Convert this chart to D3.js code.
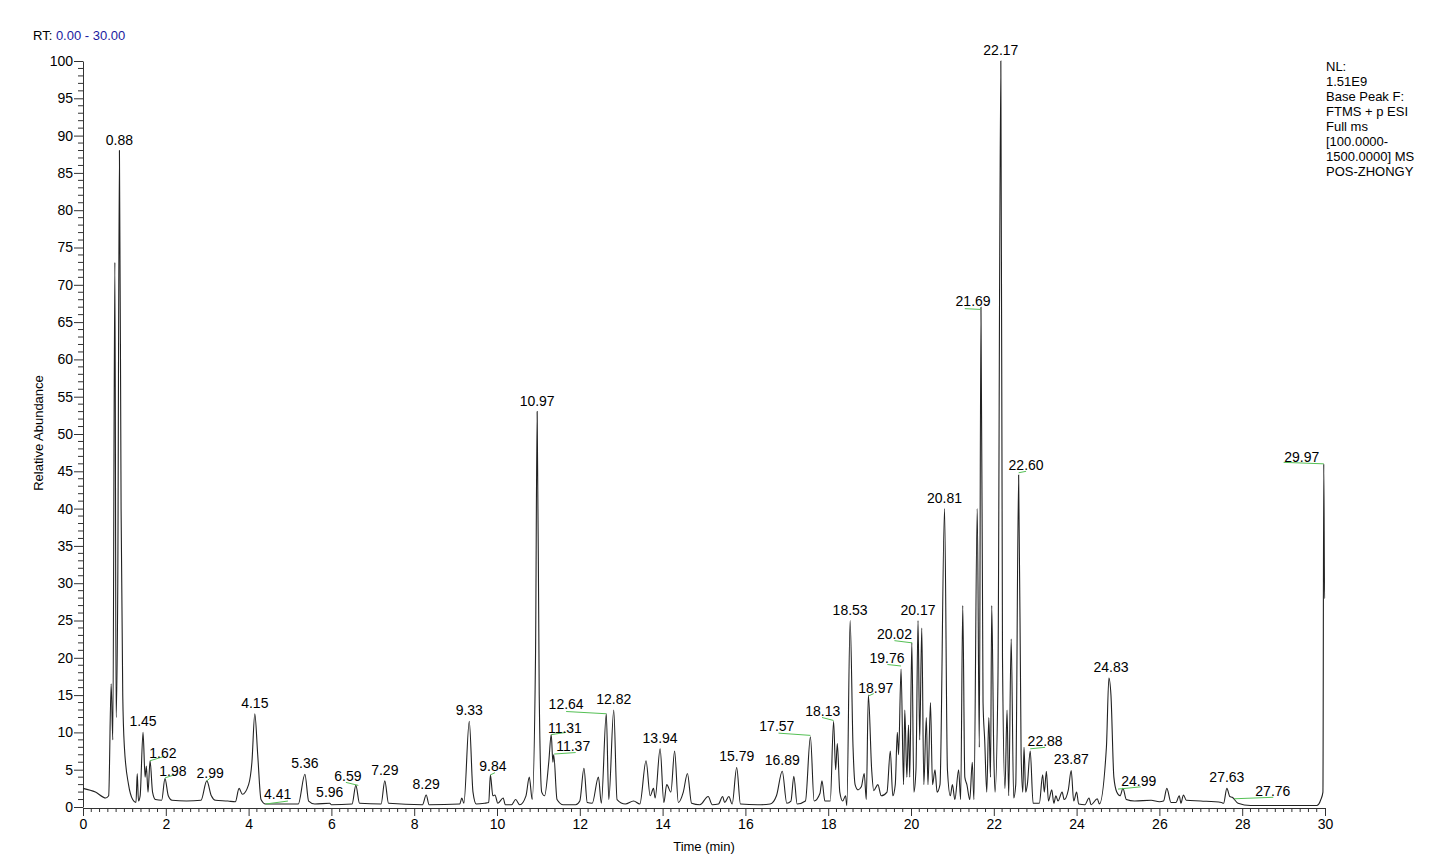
<!DOCTYPE html>
<html>
<head>
<meta charset="utf-8">
<script src="https://cdn.jsdelivr.net/npm/d3@7/dist/d3.min.js"></script>
<style>
 body { margin: 0; background: #fff; }
 text { font-family: "Liberation Sans", Arial, sans-serif; }
</style>
</head>
<body>
<div id="content"></div>
<script>
// chromatogram trace, [time (min), relative abundance]
var trace = [
 [0,2.5],[0.3,2.0],[0.55,1.2],[0.62,1.5],[0.68,16.5],[0.72,9],[0.77,73],[0.8,12],[0.84,30],[0.88,88],
 [0.92,40],[0.96,15],[1.0,8],[1.1,3],[1.2,1],[1.28,0.6],[1.31,4.5],[1.34,0.8],[1.38,1.5],[1.45,10],
 [1.5,4],[1.53,5.5],[1.57,2],[1.62,6.2],[1.68,2],[1.75,1.0],[1.9,0.9],[1.98,3.8],[2.06,1.5],[2.15,0.9],
 [2.5,0.8],[2.85,0.9],[2.99,3.5],[3.1,1.5],[3.2,0.9],[3.5,0.8],[3.68,0.7],[3.77,2.5],[3.85,1.7],[4.0,3],
 [4.08,6],[4.15,12.5],[4.22,7],[4.3,1.0],[4.41,0.4],[5.2,0.4],[5.36,4.4],[5.45,0.8],[5.6,0.4],[5.96,0.5],
 [6.0,0.3],[6.5,0.4],[6.59,2.9],[6.68,0.5],[7.2,0.4],[7.29,3.5],[7.38,0.5],[8.2,0.3],[8.29,1.6],[8.36,0.3],
 [9.1,0.4],[9.15,1.2],[9.2,0.5],[9.33,11.5],[9.42,2],[9.5,0.4],[9.7,0.5],[9.8,0.6],[9.84,4.3],[9.9,1.5],
 [9.95,1.6],[10.02,0.5],[10.15,1.2],[10.2,0.3],[10.35,0.3],[10.45,1.0],[10.55,0.3],[10.7,1.5],[10.78,4],[10.85,1.0],
 [10.93,20],[10.97,53],[11.02,15],[11.08,2],[11.15,1.5],[11.25,6],[11.31,9.7],[11.35,6],[11.37,7],[11.45,1.0],
 [11.6,0.3],[11.9,0.3],[12.0,0.8],[12.1,5.2],[12.18,0.6],[12.3,0.5],[12.45,4.0],[12.52,0.5],[12.64,12.5],[12.7,1.0],
 [12.82,13],[12.9,1.0],[13.1,0.4],[13.3,0.8],[13.45,0.4],[13.6,6.2],[13.7,1.5],[13.78,2.5],[13.82,1.2],[13.94,7.8],
 [14.03,0.6],[14.1,3.0],[14.2,2],[14.29,7.5],[14.38,0.6],[14.5,2],[14.6,4.5],[14.7,0.5],[14.9,0.3],[15.1,1.4],
 [15.2,0.3],[15.35,0.4],[15.45,1.4],[15.5,0.6],[15.6,1.4],[15.68,0.4],[15.79,5.3],[15.88,0.4],[16.3,0.3],[16.6,0.4],
 [16.75,1.5],[16.89,4.8],[17.0,0.5],[17.1,0.8],[17.17,4.1],[17.25,0.4],[17.45,0.8],[17.57,9.4],[17.66,0.8],[17.8,1.8],
 [17.85,3.5],[17.92,0.8],[18.05,0.8],[18.13,11.5],[18.18,5],[18.22,8.5],[18.28,2],[18.35,0.8],[18.42,1.5],[18.45,0.2],
 [18.53,25],[18.6,8],[18.65,3],[18.72,2.3],[18.8,2.7],[18.87,4.5],[18.92,1],[18.97,15],[19.05,5],[19.1,2.2],
 [19.2,3.0],[19.28,1.5],[19.42,2.0],[19.5,7.5],[19.56,1.5],[19.62,3],[19.67,10],[19.7,7],[19.76,18.5],[19.82,3],
 [19.85,13],[19.9,4],[19.94,11],[19.97,4],[20.02,22],[20.07,2],[20.12,5],[20.17,25],[20.21,9],[20.26,24],
 [20.31,3],[20.37,12],[20.41,3],[20.47,14],[20.52,3],[20.58,5],[20.63,2],[20.7,3],[20.81,40],[20.88,5],
 [20.95,1.5],[21.0,3],[21.06,1],[21.15,5],[21.2,1],[21.25,27],[21.3,4],[21.35,3],[21.42,1],[21.48,6],
 [21.52,1],[21.6,40],[21.65,8],[21.69,67],[21.74,14],[21.78,9],[21.83,2],[21.88,12],[21.92,4],[21.95,27],
 [22.0,7],[22.03,2],[22.1,17],[22.17,100],[22.21,20],[22.27,2.5],[22.32,13],[22.36,1.5],[22.42,22.5],[22.48,1.2],
 [22.53,3],[22.6,44.5],[22.66,7],[22.7,2],[22.73,8],[22.77,2],[22.81,3],[22.88,7.5],[22.95,0.5],[23.1,0.5],
 [23.18,4.3],[23.22,2],[23.27,4.8],[23.32,0.8],[23.4,2.3],[23.45,0.5],[23.5,1.5],[23.55,0.8],[23.65,2.0],[23.7,1.0],
 [23.8,2.3],[23.87,4.9],[23.93,0.8],[24.0,2.0],[24.05,0.4],[24.2,0.3],[24.3,1.2],[24.35,0.3],[24.5,1.1],[24.55,0.4],
 [24.72,8],[24.78,17.3],[24.83,15],[24.9,4],[24.97,2.0],[25.05,1.5],[25.12,2.5],[25.2,1.0],[25.4,0.8],[25.8,0.9],
 [26.0,0.7],[26.1,0.8],[26.18,2.5],[26.28,0.6],[26.4,0.6],[26.48,1.5],[26.52,0.5],[26.58,1.6],[26.65,0.9],[27.0,0.8],
 [27.5,0.6],[27.55,0.5],[27.63,2.5],[27.7,1.4],[27.76,1.3],[27.9,0.5],[28.2,0.2],[29.0,0.2],[29.8,0.2],[29.9,1.0],
 [29.95,2],[29.97,46],[29.99,28],[30,28]
];

// peak labels without leader: [time, abundance]
var plainLabels = [
 [0.88,88],[1.45,10],[4.15,12.5],[5.36,4.4],[5.96,0.5],[7.29,3.5],[8.29,1.6],[9.33,11.5],[10.97,53],
 [12.82,13],[13.94,7.8],[15.79,5.3],[16.89,4.8],[18.53,25],[20.17,25],[20.81,40],[22.17,100],
 [23.87,4.9],[24.83,17.3],[27.63,2.5]
];

// labels with green leader: [text, labelTime, labelAbundance, leader t1, v1, t2, v2]
var leaderLabels = [
 ["1.62",1.93,6.6,1.62,6.2,1.97,6.8],
 ["1.98",2.17,4.2,1.98,3.9,2.2,4.3],
 ["2.99",3.07,3.9,2.99,3.5,3.1,4.0],
 ["4.41",4.7,1.1,4.41,0.4,4.95,0.8],
 ["6.59",6.4,3.5,6.35,3.3,6.65,2.9],
 ["9.84",9.9,4.8,9.84,4.3,9.95,4.6],
 ["11.31",11.64,9.9,11.31,9.7,11.67,10.0],
 ["11.37",11.84,7.5,11.38,7.1,11.9,7.3],
 ["12.64",11.67,13.2,11.67,12.8,12.64,12.5],
 ["17.57",16.76,10.2,16.8,9.9,17.57,9.6],
 ["18.13",17.87,12.2,17.85,12.0,18.13,11.6],
 ["18.97",19.15,15.3,18.98,14.9,19.1,15.2],
 ["19.76",19.42,19.3,19.43,19.1,19.76,18.9],
 ["20.02",19.6,22.5,19.6,22.3,20.03,22.0],
 ["21.69",21.5,67.2,21.3,66.8,21.69,66.7],
 ["22.60",22.78,45.2,22.6,44.8,22.78,45.0],
 ["22.88",23.24,8.2,22.88,7.8,23.24,8.0],
 ["24.99",25.5,2.8,25.0,2.4,25.55,2.7],
 ["27.76",28.74,1.5,27.8,1.1,28.75,1.3],
 ["29.97",29.44,46.3,29.0,46.2,29.97,46.0]
];

var infoLines = ["NL:","1.51E9","Base Peak F:","FTMS + p ESI","Full ms","[100.0000-","1500.0000]  MS","POS-ZHONGY"];

var W = 1442, H = 863;
var svg = d3.select("#content").append("svg").attr("width", W).attr("height", H);

var x = d3.scaleLinear().domain([0, 30]).range([83, 1325]);
var y = d3.scaleLinear().domain([0, 100]).range([807, 61]);

// y axis
var yg = svg.append("g").attr("transform", "translate(83,0)");
yg.call(d3.axisLeft(y).tickValues(d3.range(0, 101, 5)).tickSize(9).tickSizeOuter(0).tickFormat(d3.format("d")));
yg.selectAll("text").attr("font-size", 14).attr("fill", "#000").attr("x", -10);
yg.selectAll("line,path").attr("stroke", "#333");
yg.append("g").selectAll("line").data(d3.range(0, 101, 1).filter(function(d){ return d % 5; }))
  .enter().append("line").attr("x1", -5).attr("x2", 0)
  .attr("y1", function(d){ return y(d); }).attr("y2", function(d){ return y(d); })
  .attr("stroke", "#333");

// x axis
var xg = svg.append("g").attr("transform", "translate(0,808)");
xg.call(d3.axisBottom(x).tickValues(d3.range(0, 31, 2)).tickSize(8).tickSizeOuter(0).tickFormat(d3.format("d")));
xg.selectAll("text").attr("font-size", 14).attr("fill", "#000").attr("y", 11);
xg.selectAll("line,path").attr("stroke", "#333");
xg.append("g").selectAll("line").data(d3.range(0, 150).map(function(i){ return i * 0.2; }).filter(function(d, i){ return i % 10; }))
  .enter().append("line").attr("y1", 0).attr("y2", 4)
  .attr("x1", function(d){ return x(d); }).attr("x2", function(d){ return x(d); })
  .attr("stroke", "#333");

// trace
var line = d3.line().curve(d3.curveMonotoneX)
  .x(function(d){ return x(d[0]); }).y(function(d){ return y(d[1]); });
svg.append("path").datum(trace).attr("d", line)
  .attr("fill", "none").attr("stroke", "#222").attr("stroke-width", 1.1);

// labels
svg.selectAll(".plab").data(plainLabels).enter().append("text")
  .attr("x", function(d){ return x(d[0]); })
  .attr("y", function(d){ return y(d[1]) - 6; })
  .attr("text-anchor", "middle").attr("font-size", 14)
  .text(function(d){ return d[0].toFixed(2); });

svg.selectAll(".glin").data(leaderLabels).enter().append("line")
  .attr("x1", function(d){ return x(d[3]); }).attr("y1", function(d){ return y(d[4]); })
  .attr("x2", function(d){ return x(d[5]); }).attr("y2", function(d){ return y(d[6]); })
  .attr("stroke", "#55c055").attr("stroke-width", 1);
svg.selectAll(".glab").data(leaderLabels).enter().append("text")
  .attr("x", function(d){ return x(d[1]); })
  .attr("y", function(d){ return y(d[2]); })
  .attr("text-anchor", "middle").attr("font-size", 14)
  .text(function(d){ return d[0]; });

// header
var rt = svg.append("text").attr("x", 33).attr("y", 40).attr("font-size", 13);
rt.append("tspan").text("RT: ");
rt.append("tspan").attr("fill", "#1a1aa0").text("0.00 - 30.00");

svg.selectAll(".info").data(infoLines).enter().append("text")
  .attr("x", 1326).attr("y", function(d, i){ return 71 + i * 15; })
  .attr("font-size", 13).text(function(d){ return d; });

svg.append("text").attr("transform", "translate(43,433) rotate(-90)")
  .attr("text-anchor", "middle").attr("font-size", 13).text("Relative Abundance");
svg.append("text").attr("x", 704).attr("y", 851).attr("text-anchor", "middle")
  .attr("font-size", 13).text("Time (min)");
</script>
</body>
</html>
